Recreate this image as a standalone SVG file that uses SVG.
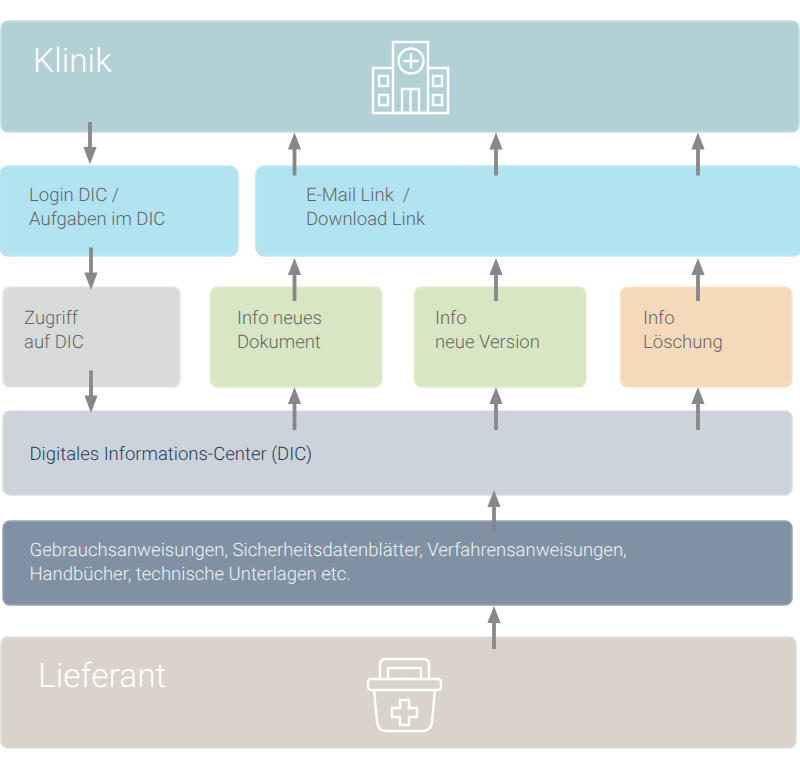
<svg xmlns="http://www.w3.org/2000/svg" width="800" height="769" viewBox="0 0 800 769">
<defs>
<path id="up" d="M-1.900 43V17H-6.600L0 0L6.600 17H1.900V43Z" fill="#888"/>
<path id="down" d="M-1.900 0V25H-6.600L0 42.500L6.600 25H1.900V0Z" fill="#888"/>
</defs>
<style>
text{font-family:Roboto,"Liberation Sans",sans-serif;font-weight:300;font-size:18.500px;fill:#666;text-rendering:geometricPrecision}
.big{font-size:33.500px;fill:#fff}
.box{stroke-width:1.500}
.ic{fill:none;stroke:#fff;stroke-width:2.400}
</style>
<rect width="800" height="769" fill="#fff"/>
<g id="klinik"><rect class="box" x="1" y="21" width="798" height="111" rx="7" fill="#b2d1d6" stroke="#c3dcdf"/>
<text class="big" x="33" y="72">Klinik</text>
<g class="ic"><rect x="393" y="42" width="35" height="71"/><circle cx="411" cy="61" r="12.500"/><path d="M411 53.500V68.500M403.500 61H418.500"/><path d="M393 68H373V113H448V68H428"/><rect x="379" y="76" width="9" height="10"/><rect x="379" y="95" width="9" height="10"/><rect x="433" y="76" width="9" height="10"/><rect x="433" y="95" width="9" height="10"/><path d="M402 113V89H419V113M410.500 89V113"/></g></g>
<g id="login"><rect class="box" x="0" y="166" width="238" height="90" rx="8" fill="#b1e3f1" stroke="#bfe9f4"/><text x="29" y="201">Login DIC /</text><text x="29" y="225">Aufgaben im DIC</text></g>
<g id="email"><rect class="box" x="256" y="166" width="546" height="90" rx="8" fill="#b1e3f1" stroke="#bfe9f4"/><text x="306" y="201" xml:space="preserve">E-Mail Link  /</text><text x="306" y="225">Download Link</text></g>
<g id="zugriff"><rect class="box" x="3" y="287" width="177" height="100" rx="7" fill="#d9dbdb" stroke="#e3e5e5"/><text x="24" y="324">Zugriff</text><text x="24" y="348">auf DIC</text></g>
<g id="info-dokument"><rect class="box" x="210.500" y="287" width="171.500" height="100" rx="7" fill="#d7e7c4" stroke="#e0edd1"/><text x="237" y="324">Info neues</text><text x="237" y="348">Dokument</text></g>
<g id="info-version"><rect class="box" x="414.500" y="287" width="171.500" height="100" rx="7" fill="#d7e7c4" stroke="#e0edd1"/><text x="435" y="324">Info</text><text x="435" y="348">neue Version</text></g>
<g id="info-loeschung"><rect class="box" x="620.500" y="287" width="171.500" height="100" rx="7" fill="#f6d9bb" stroke="#f9e3cc"/><text x="643" y="324">Info</text><text x="643" y="348">Löschung</text></g>
<g id="dic"><rect class="box" x="3" y="411" width="789" height="84" rx="7" fill="#ccd3da" stroke="#d8dde3"/><text x="29.500" y="459.500" style="fill:#1f3f60">Digitales Informations-Center (DIC)</text></g>
<g id="dokumente"><rect class="box" x="3" y="521" width="789" height="84" rx="7" fill="#8091a3" stroke="#95a4b3"/><text x="29.500" y="556" style="fill:#f0f2f4">Gebrauchsanweisungen, Sicherheitsdatenblätter, Verfahrensanweisungen,</text><text x="29.500" y="580" style="fill:#f0f2f4">Handbücher, technische Unterlagen etc.</text></g>
<g id="lieferant"><rect class="box" x="1" y="637" width="795" height="111" rx="7" fill="#d9d3c9" stroke="#e2ddd5"/>
<text class="big" x="38" y="687">Lieferant</text>
<g class="ic"><path d="M380 679V665Q380 659 386 659H423Q429 659 429 665V679"/><path d="M388 679V668H421V679"/><rect x="368" y="679" width="73" height="11" rx="3"/><path d="M374 690L377 722Q378 731 387 731H422Q431 731 432 722L435 690"/><path d="M400 700H409V708H417V717H409V725H400V717H392V708H400Z"/></g></g>
<g id="connectors">
<use href="#down" x="90" y="122"/><use href="#down" x="91" y="247.500"/><use href="#down" x="91" y="370.500"/>
<use href="#up" x="294.500" y="132.500"/><use href="#up" x="294.500" y="258"/><use href="#up" x="294.500" y="387"/>
<use href="#up" x="496" y="132.500"/><use href="#up" x="496" y="258"/><use href="#up" x="496" y="387"/>
<use href="#up" x="698" y="132.500"/><use href="#up" x="698" y="258"/><use href="#up" x="698" y="387"/>
<use href="#up" x="494" y="490"/><use href="#up" x="494" y="606"/>
</g>
</svg>
